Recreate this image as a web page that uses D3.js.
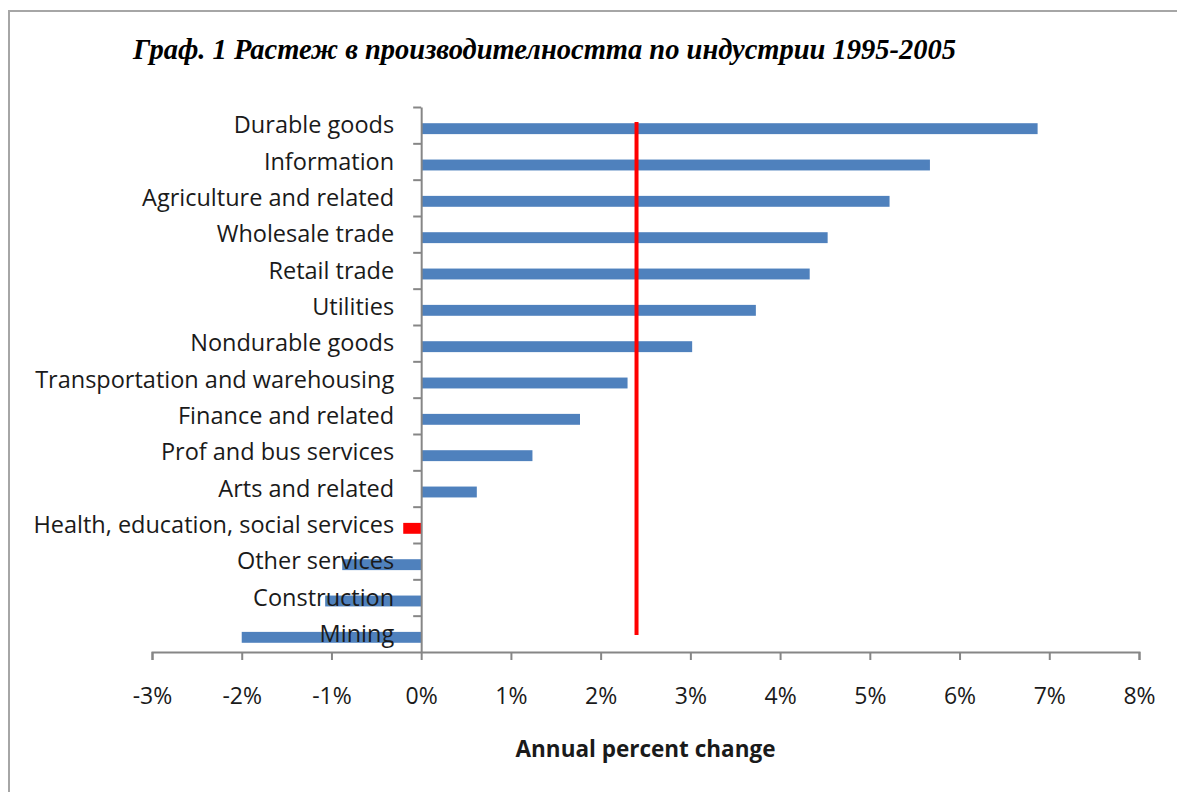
<!DOCTYPE html>
<html>
<head>
<meta charset="utf-8">
<script src="https://cdn.jsdelivr.net/npm/d3@7"></script>
<style>
  body { margin: 0; background: #fff; }
  svg { display: block; }
</style>
</head>
<body>
<div id="chart"></div>
<script>
// data
var categories = ["Durable goods", "Information", "Agriculture and related", "Wholesale trade",
  "Retail trade", "Utilities", "Nondurable goods", "Transportation and warehousing",
  "Finance and related", "Prof and bus services", "Arts and related",
  "Health, education, social services", "Other services", "Construction", "Mining"];
var values = [6.87, 5.67, 5.22, 4.53, 4.33, 3.73, 3.02, 2.30, 1.77, 1.24, 0.62, -0.20, -0.88, -1.07, -2.00];
var highlighted = ["Health, education, social services"];
var averageLine = [2.4];
var xTicks = [-3, -2, -1, 0, 1, 2, 3, 4, 5, 6, 7, 8];
var titleText = "Граф. 1 Растеж в производителността по индустрии 1995-2005";
var xTitle = "Annual percent change";

var w = 1177, h = 792;
var plotLeft = 152, plotRight = 1139, plotTop = 107, plotBottom = 652;
var labelFont = "'Open Sans', 'DejaVu Sans', sans-serif";

var svg = d3.select("#chart").append("svg")
  .attr("width", w)
  .attr("height", h);

// frame
svg.append("path")
  .attr("d", "M9," + h + "V11H" + w)
  .attr("fill", "none")
  .attr("stroke", "#a6a6a6")
  .attr("stroke-width", 2);

var xScale = d3.scaleLinear()
  .domain([xTicks[0], xTicks[xTicks.length - 1]])
  .range([plotLeft, plotRight]);

var yScale = d3.scaleBand()
  .domain(categories)
  .range([plotTop, plotBottom])
  .paddingInner(0.7)
  .paddingOuter(0.35);

var step = (plotBottom - plotTop) / categories.length;

// bars
svg.selectAll("rect.bar")
  .data(values)
  .enter()
  .append("rect")
  .attr("class", "bar")
  .attr("x", function(d) { return xScale(Math.min(0, d)); })
  .attr("y", function(d, i) { return yScale(categories[i]) + 3.5; })
  .attr("width", function(d) { return Math.abs(xScale(d) - xScale(0)); })
  .attr("height", yScale.bandwidth())
  .attr("fill", function(d, i) {
    return highlighted.indexOf(categories[i]) >= 0 ? "#ff0000" : "#4f81bd";
  });

// x axis
var xAxis = d3.axisBottom(xScale)
  .tickValues(xTicks)
  .tickSize(8)
  .tickFormat(function(d) { return d + "%"; });

var gx = svg.append("g")
  .attr("transform", "translate(0," + plotBottom + ")")
  .call(xAxis);
gx.select(".domain").attr("stroke", "#868686").attr("stroke-width", 2);
gx.selectAll(".tick line").attr("stroke", "#868686").attr("stroke-width", 2);
gx.selectAll(".tick text")
  .attr("y", 52)
  .attr("dy", 0)
  .attr("font-family", labelFont)
  .attr("font-size", "23px")
  .attr("fill", "#1a1a1a");

// y axis: tick marks on band boundaries, Excel style
var yLines = d3.scaleLinear().domain([0, categories.length]).range([plotTop, plotBottom]);
var yAxis = d3.axisLeft(yLines)
  .tickValues(d3.range(0, categories.length))
  .tickSize(8)
  .tickSizeOuter(0)
  .tickFormat("");
var gy = svg.append("g")
  .attr("transform", "translate(" + xScale(0) + ",0)")
  .call(yAxis);
gy.select(".domain").attr("stroke", "#868686").attr("stroke-width", 2);
gy.selectAll(".tick line").attr("stroke", "#868686").attr("stroke-width", 2);

// category labels
svg.selectAll("text.cat")
  .data(categories)
  .enter()
  .append("text")
  .attr("class", "cat")
  .attr("x", xScale(0) - 27)
  .attr("y", function(d, i) { return plotTop + step * (i + 0.5); })
  .attr("dy", "0.35em")
  .attr("text-anchor", "end")
  .attr("font-family", labelFont)
  .attr("font-size", "23.5px")
  .attr("fill", "#1a1a1a")
  .text(function(d) { return d; });

// average line
svg.selectAll("line.avg")
  .data(averageLine)
  .enter()
  .append("line")
  .attr("class", "avg")
  .attr("x1", function(d) { return xScale(d); })
  .attr("x2", function(d) { return xScale(d); })
  .attr("y1", plotTop + 15)
  .attr("y2", plotBottom - 17)
  .attr("stroke", "#ff0000")
  .attr("stroke-width", 4);

// title
svg.append("text")
  .attr("x", 133)
  .attr("y", 59)
  .attr("font-family", "'Liberation Serif', 'Times New Roman', serif")
  .attr("font-weight", "bold")
  .attr("font-style", "italic")
  .attr("font-size", "28.5px")
  .attr("fill", "#000")
  .text(titleText);

// x axis title
svg.append("text")
  .attr("x", (xScale(-3) + xScale(8)) / 2)
  .attr("y", 757)
  .attr("text-anchor", "middle")
  .attr("font-family", labelFont)
  .attr("font-weight", "bold")
  .attr("font-size", "22.5px")
  .attr("fill", "#1a1a1a")
  .text(xTitle);
</script>
</body>
</html>
